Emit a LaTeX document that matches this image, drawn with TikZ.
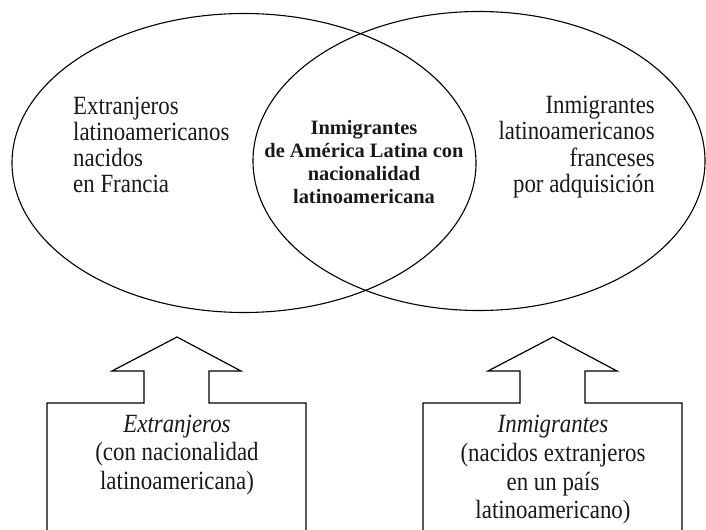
\documentclass[tikz,border=0pt]{standalone}
\usepackage{fontspec}
\setmainfont{Liberation Serif}
\newfontfamily\tallfont{Liberation Serif}[FakeStretch=0.87]
\usetikzlibrary{shapes.geometric}
\begin{document}
\begin{tikzpicture}[x=1bp,y=-1bp,
  venn/.style={draw=black,line width=1.1bp,ellipse,inner sep=0pt},
  upbox/.style={draw=black,line width=1.2bp,line join=miter},
  bigtxt/.style={font=\tallfont\fontsize{26.4}{26.3}\selectfont,text=black!90,inner sep=0pt},
  midtxt/.style={font=\fontsize{20.5}{23}\selectfont\bfseries,text=black!90,inner sep=0pt,align=center},
  boxtxt/.style={font=\tallfont\fontsize{26.4}{28.8}\selectfont,text=black!90,inner sep=0pt,align=center}]
\useasboundingbox (0,0) rectangle (706,530);
\node[venn,minimum width=464bp,minimum height=299bp] (L) at (244,163) {};
\node[venn,minimum width=452bp,minimum height=299bp] (R) at (479,161) {};
\node[bigtxt,anchor=west,align=left] (lt) at (73,145) {Extranjeros\\latinoamericanos\\nacidos\\en Francia};
\node[bigtxt,anchor=east,align=right] (rt) at (655,147) {Inmigrantes\\latinoamericanos\\franceses\\por adquisición};
\node[midtxt] (mt) at (364,162) {Inmigrantes\\de América Latina con\\nacionalidad\\latinoamericana};
\draw[upbox] (47,531) -- (47,403) -- (144,403) -- (144,371) -- (112,371) -- (177,337) -- (241,371) -- (209,371) -- (209,403) -- (306,403) -- (306,531);
\draw[upbox] (423,531) -- (423,403) -- (520,403) -- (520,371) -- (488,371) -- (553,337) -- (617,371) -- (585,371) -- (585,403) -- (682,403) -- (682,531);
\node[boxtxt] (lb) at (177,455) {\textit{Extranjeros}\\(con nacionalidad\\latinoamericana)};
\node[boxtxt] (rb) at (553,470) {\textit{Inmigrantes}\\(nacidos extranjeros\\en un país\\latinoamericano)};
\end{tikzpicture}
\end{document}
